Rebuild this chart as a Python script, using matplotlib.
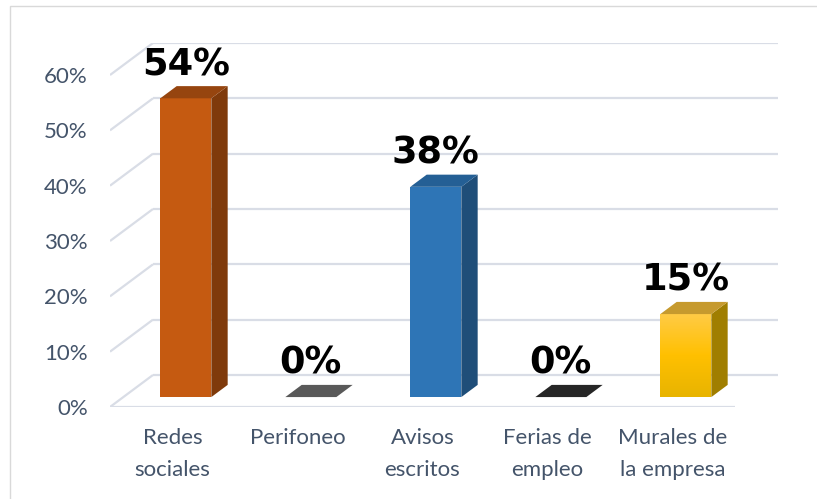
import numpy as np
import matplotlib.pyplot as plt
from matplotlib.patches import Rectangle
from matplotlib.colors import LinearSegmentedColormap

# datos
categorias = ["Redes\nsociales", "Perifoneo", "Avisos\nescritos", "Ferias de\nempleo", "Murales de\nla empresa"]
valores = [54, 0, 38, 0, 15]
ticks_y = [0, 10, 20, 30, 40, 50, 60]

col_frente = ["#C55A11", "#595959", "#2E75B6", "#262626", "#FFC20E"]
col_lado = ["#7F3A0B", "#3A3A3A", "#1F4E79", "#111111", "#A07E00"]
col_arriba = ["#96450F", "#595959", "#245F95", "#262626", "#C69A2E"]

# profundidad falsa 3D (en unidades de datos)
DX = 0.344
DY = 0.0579
Z0, Z1 = 0.31, 0.69
ANCHO = 0.408
GRID = "#D9DDE6"
TXT = "#44546A"

fig = plt.figure(figsize=(8.17, 4.99), dpi=100)
fig.patches.append(Rectangle((10 / 817, -0.1), 1.2, 1 - 6 / 499 + 0.1, transform=fig.transFigure,
                             fill=False, ec="#D9D9D9", lw=1))
ax = fig.add_axes([110 / 817, 1 - 407 / 499, 668 / 817, 364 / 499])
ax.set_xlim(0, 5 + DX)
ax.set_ylim(0, 0.6 + DY)

# paredes y lineas de fondo
for t in ticks_y:
    v = t / 100
    ax.plot([0, DX], [v, v + DY], color=GRID, lw=1.6, zorder=1, solid_capstyle="butt")
    ax.plot([DX, 5 + DX], [v + DY, v + DY], color=GRID, lw=1.6, zorder=1, solid_capstyle="butt")
ax.plot([0, 5], [0, 0], color=GRID, lw=1.6, zorder=1, solid_capstyle="butt")

centros = np.arange(len(valores)) + 0.5
vals = np.array(valores) / 100

# cara frontal
barras = ax.bar(centros + Z0 * DX, vals, bottom=Z0 * DY, width=ANCHO, color=col_frente, zorder=3, lw=0)

# degradado en la barra amarilla
b = barras[4]
grad = LinearSegmentedColormap.from_list("amarillo", ["#E8B400", "#FFC000", "#FFCB45"])
img = ax.imshow(np.linspace(0, 1, 100).reshape(-1, 1), cmap=grad, aspect="auto", origin="lower",
                extent=[b.get_x(), b.get_x() + b.get_width(), b.get_y(), b.get_y() + b.get_height()],
                zorder=3.5)
img.set_clip_path(b)
ax.set_xlim(0, 5 + DX)
ax.set_ylim(0, 0.6 + DY)

for i, v in enumerate(vals):
    x0 = centros[i] + Z0 * DX - ANCHO / 2
    x1 = x0 + ANCHO
    y0 = Z0 * DY
    y1 = y0 + v
    ddx = (Z1 - Z0) * DX
    ddy = (Z1 - Z0) * DY
    if v > 0:
        ax.fill([x1, x1 + ddx, x1 + ddx, x1], [y0, y0 + ddy, y1 + ddy, y1],
                color=col_lado[i], lw=0, zorder=3)
    ax.fill([x0, x1, x1 + ddx, x0 + ddx], [y1, y1, y1 + ddy, y1 + ddy],
            color=col_arriba[i], lw=0, zorder=4)
    ax.annotate(f"{valores[i]}%", (centros[i] + Z0 * DX, y1 + ddy), xytext=(0, 8),
                textcoords="offset points", ha="center", va="baseline",
                fontsize=26.5, fontweight="bold", family="DejaVu Sans", color="black")

ax.set_yticks([t / 100 for t in ticks_y])
ax.set_yticklabels([f"{t}%" for t in ticks_y])
ax.set_xticks(centros)
ax.set_xticklabels(categorias, linespacing=1.75)
ax.tick_params(length=0, labelcolor=TXT, labelsize=16)
ax.tick_params(axis="y", pad=16)
ax.tick_params(axis="x", pad=15)
for lab in ax.get_xticklabels() + ax.get_yticklabels():
    lab.set_family("Lato")
for s in ax.spines.values():
    s.set_visible(False)
ax.patch.set_visible(False)

fig.savefig("out.png", dpi=100)
